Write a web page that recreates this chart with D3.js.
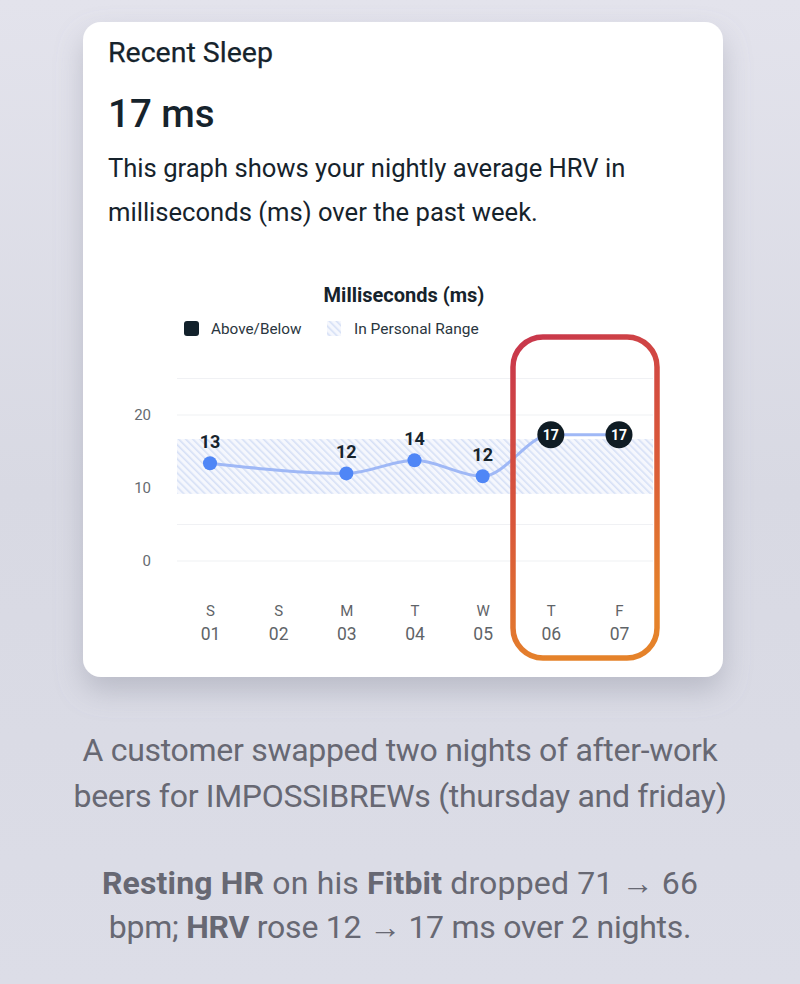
<!DOCTYPE html>
<html><head><meta charset="utf-8">
<script src="https://cdn.jsdelivr.net/npm/d3@7/dist/d3.min.js"></script>
<style>
html,body{margin:0;padding:0;background:#dcdde6;}
svg{display:block;}
</style></head>
<body>
<script>
const days = ["S","S","M","T","W","T","F"];
const dates = ["01","02","03","04","05","06","07"];
const hrv = [13.4, null, 12.0, 13.8, 11.6, 17.3, 17.3];
const above = [false, false, false, false, false, true, true];
const rangeLow = 9.2, rangeHigh = 16.7;
const yTicks = [0, 10, 20];
const gridVals = [0, 5, 10, 15, 20, 25];

const W = 800, H = 984;
const svg = d3.select("body").append("svg").attr("width", W).attr("height", H);
const defs = svg.append("defs");

const bg = defs.append("linearGradient").attr("id","bg").attr("x1",0).attr("y1",0).attr("x2",0).attr("y2",1);
bg.append("stop").attr("offset","0%").attr("stop-color","#e3e3ec");
bg.append("stop").attr("offset","50%").attr("stop-color","#d8d9e3");
bg.append("stop").attr("offset","100%").attr("stop-color","#dcdde7");
svg.append("rect").attr("width",W).attr("height",H).attr("fill","url(#bg)");

const sh = defs.append("filter").attr("id","sh").attr("x","-20%").attr("y","-20%").attr("width","140%").attr("height","150%");
sh.append("feDropShadow").attr("dx",0).attr("dy",14).attr("stdDeviation",14).attr("flood-color","#8a8c9c").attr("flood-opacity",0.4);

const pat = defs.append("pattern").attr("id","hatch").attr("patternUnits","userSpaceOnUse")
  .attr("width",5).attr("height",5).attr("patternTransform","rotate(-45)");
pat.append("rect").attr("width",5).attr("height",5).attr("fill","#f5f7fd");
pat.append("rect").attr("width",1.6).attr("height",5).attr("fill","#d6e0f6");

const rg = defs.append("linearGradient").attr("id","box").attr("x1",0).attr("y1",0).attr("x2",0.25).attr("y2",1);
rg.append("stop").attr("offset","0%").attr("stop-color","#c8364c");
rg.append("stop").attr("offset","55%").attr("stop-color","#d9573a");
rg.append("stop").attr("offset","100%").attr("stop-color","#e5822a");

// card
svg.append("rect").attr("x",83).attr("y",22).attr("width",640).attr("height",655).attr("rx",18)
  .attr("fill","#ffffff").attr("filter","url(#sh)");

const font = "Roboto, 'Noto Sans', sans-serif";
const dark = "#16232c";
svg.append("text").attr("x",108).attr("y",62).attr("font-family",font).attr("font-size",28.5)
  .attr("fill",dark).attr("stroke",dark).attr("stroke-width",0.25).text("Recent Sleep");
svg.append("text").attr("x",108).attr("y",127).attr("font-family",font).attr("font-size",38.5)
  .attr("font-weight",500).attr("fill",dark).text("17 ms");
svg.append("text").attr("x",108).attr("y",177).attr("font-family",font).attr("font-size",25.6)
  .attr("fill",dark).text("This graph shows your nightly average HRV in");
svg.append("text").attr("x",108).attr("y",221).attr("font-family",font).attr("font-size",25.6)
  .attr("fill",dark).text("milliseconds (ms) over the past week.");

// chart title + legend
svg.append("text").attr("x",404).attr("y",302).attr("text-anchor","middle").attr("font-family",font)
  .attr("font-size",20).attr("font-weight",700).attr("fill",dark).text("Milliseconds (ms)");
svg.append("rect").attr("x",184).attr("y",321).attr("width",15).attr("height",15).attr("rx",3).attr("fill","#12212b");
svg.append("text").attr("x",211).attr("y",334).attr("font-family",font).attr("font-size",15.3)
  .attr("fill","#2a3640").text("Above/Below");
svg.append("rect").attr("x",327).attr("y",321).attr("width",14).attr("height",15).attr("fill","url(#hatch)");
svg.append("text").attr("x",354).attr("y",334).attr("font-family",font).attr("font-size",15.5)
  .attr("fill","#2a3640").text("In Personal Range");

// scales
const x = d3.scalePoint().domain(dates).range([210, 619]);
const y = d3.scaleLinear().domain([0, 20]).range([561, 415]);
const x0 = 177, x1 = 653;

const g = svg.append("g");
g.selectAll("line.grid").data(gridVals).join("line")
  .attr("x1",x0).attr("x2",x1).attr("y1",d=>y(d)).attr("y2",d=>y(d))
  .attr("stroke","#f0f1f4").attr("stroke-width",1.2);

g.append("rect").attr("x",x0).attr("width",x1-x0).attr("y",y(rangeHigh)).attr("height",y(rangeLow)-y(rangeHigh))
  .attr("fill","url(#hatch)");

// y axis
const yAxis = d3.axisLeft(y).tickValues(yTicks).tickSize(0).tickPadding(0);
const ya = svg.append("g").attr("transform","translate(151,0)").call(yAxis);
ya.select(".domain").remove();
ya.selectAll("text").attr("font-family",font).attr("font-size",15).attr("fill","#666b70");

// x axis labels
const xAxisTop = d3.axisBottom(x).tickSize(0).tickFormat((d,i)=>days[i]);
const xa1 = svg.append("g").attr("transform","translate(0,602)").call(xAxisTop);
xa1.select(".domain").remove();
xa1.selectAll("text").attr("font-family",font).attr("font-size",15).attr("fill","#5f6468");
const xAxisBot = d3.axisBottom(x).tickSize(0);
const xa2 = svg.append("g").attr("transform","translate(0,625)").call(xAxisBot);
xa2.select(".domain").remove();
xa2.selectAll("text").attr("font-family",font).attr("font-size",17.5).attr("fill","#5f6468");

// line
const pts = dates.map((d,i)=>({d, v:hrv[i], a:above[i]})).filter(p=>p.v!==null);
const line = d3.line().x(p=>x(p.d)).y(p=>y(p.v)).curve(d3.curveMonotoneX);
g.append("path").datum(pts).attr("d",line).attr("fill","none").attr("stroke","#9fb8f6").attr("stroke-width",3);

// points
const normal = pts.filter(p=>!p.a), hi = pts.filter(p=>p.a);
g.selectAll("circle.n").data(normal).join("circle").attr("cx",p=>x(p.d)).attr("cy",p=>y(p.v)).attr("r",7)
  .attr("fill","#4f86f6");
g.selectAll("text.n").data(normal).join("text").attr("x",p=>x(p.d)).attr("y",p=>y(p.v)-15)
  .attr("text-anchor","middle").attr("font-family",font).attr("font-size",18).attr("font-weight",700)
  .attr("fill","#17242d").text(p=>Math.round(p.v));
g.selectAll("circle.h").data(hi).join("circle").attr("cx",p=>x(p.d)).attr("cy",p=>y(p.v)).attr("r",13.5)
  .attr("fill","#0f1c24");
g.selectAll("text.h").data(hi).join("text").attr("x",p=>x(p.d)).attr("y",p=>y(p.v)+5)
  .attr("text-anchor","middle").attr("font-family",font).attr("font-size",14).attr("font-weight",700)
  .attr("fill","#ffffff").text(p=>Math.round(p.v));

// highlight box
svg.append("rect").attr("x",513).attr("y",337).attr("width",144).attr("height",321).attr("rx",30)
  .attr("fill","none").attr("stroke","url(#box)").attr("stroke-width",5.5);

// caption
const cap = "#676873";
const capFont = "Roboto, 'Liberation Sans', sans-serif";
function capLine(yy, parts, ls){
  const t = svg.append("text").attr("x",400).attr("y",yy).attr("text-anchor","middle")
    .attr("font-family",capFont).attr("font-size",32).attr("fill",cap).attr("letter-spacing",ls);
  parts.forEach(p=>t.append("tspan").attr("font-weight",p[1]?700:400).text(p[0]));
}
capLine(761, [["A customer swapped two nights of after-work", false]], -0.3);
capLine(807, [["beers for IMPOSSIBREWs (thursday and friday)", false]], -0.3);
capLine(894, [["Resting HR",true],[" on his ",false],["Fitbit",true],[" dropped 71 \u2192 66",false]], 0.15);
capLine(938, [["bpm; ",false],["HRV",true],[" rose 12 \u2192 17 ms over 2 nights.",false]], -0.25);
</script>
</body></html>
